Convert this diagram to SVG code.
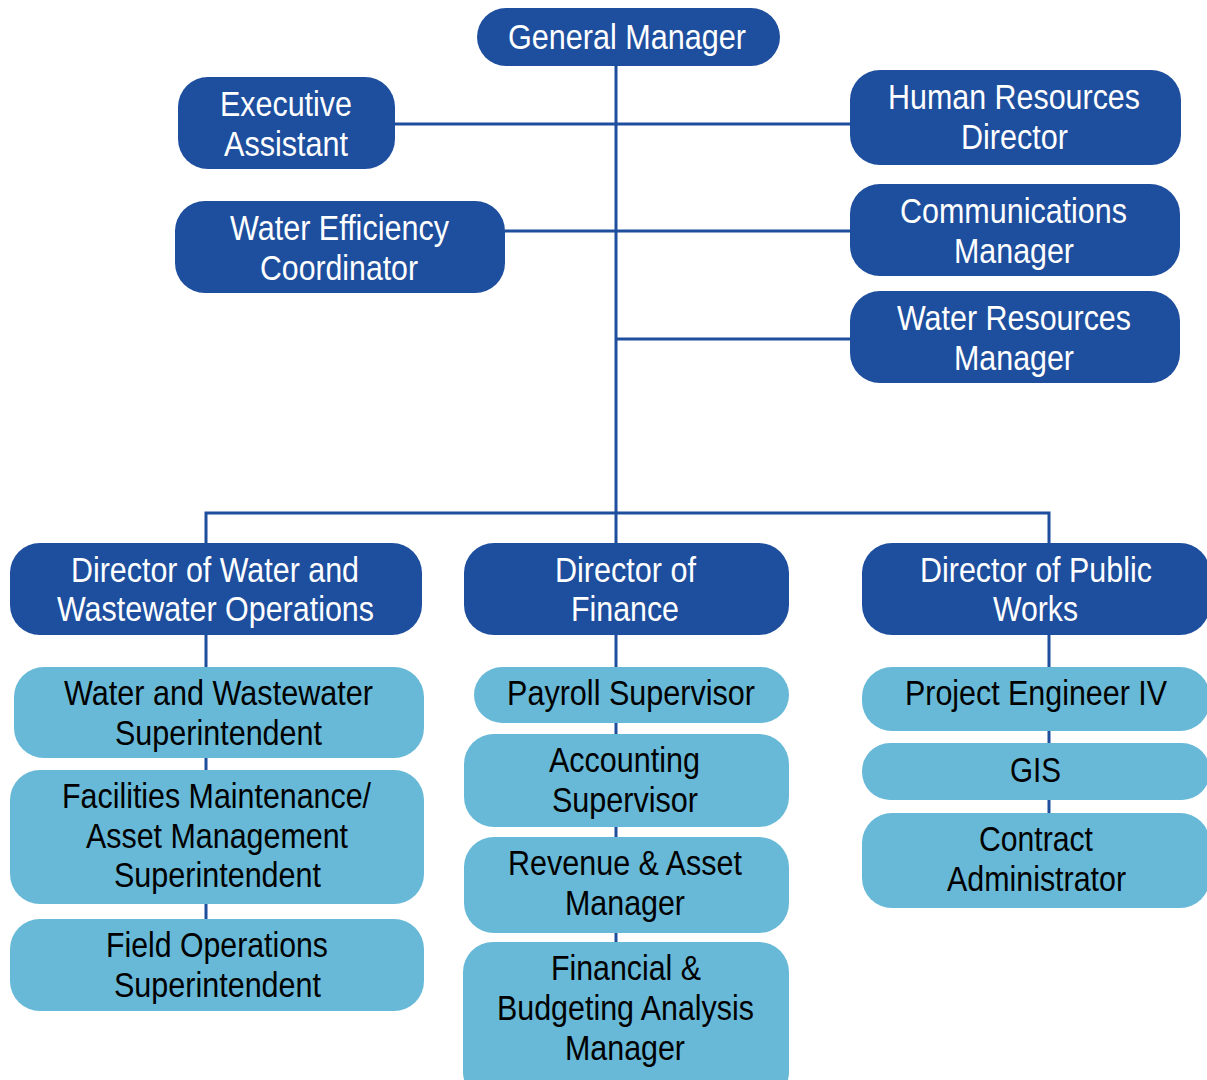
<svg xmlns="http://www.w3.org/2000/svg" width="1207" height="1080" viewBox="0 0 1207 1080">
<style>
.d{fill:#1e4e9e}
.l{fill:#67b9d7}
text{font-family:"Liberation Sans",Arial,sans-serif;font-size:35px;text-anchor:middle}
.dt{fill:#ffffff}
.lt{fill:#000000}
.c{stroke:#1e4e9e;stroke-width:3;fill:none}
</style>
<rect width="1207" height="1080" fill="#ffffff"/>
<g id="connectors" class="c">
<path d="M616 66V942"/>
<path d="M395 124H850"/>
<path d="M505 231H850"/>
<path d="M616 339H850"/>
<path d="M206 543V513H1049V543"/>
<path d="M206 635V919"/>
<path d="M1049 635V813"/>
</g>
<g id="general-manager"><rect class="d" x="477" y="8" width="303" height="58" rx="29"/><text class="dt" x="627" y="49" textLength="238" lengthAdjust="spacingAndGlyphs">General Manager</text></g>
<g id="executive-assistant"><rect class="d" x="178" y="77" width="217" height="92" rx="30"/><text class="dt" x="286" y="116" textLength="132" lengthAdjust="spacingAndGlyphs">Executive</text><text class="dt" x="286" y="156" textLength="124" lengthAdjust="spacingAndGlyphs">Assistant</text></g>
<g id="water-efficiency-coordinator"><rect class="d" x="175" y="201" width="330" height="92" rx="30"/><text class="dt" x="339.5" y="240" textLength="219" lengthAdjust="spacingAndGlyphs">Water Efficiency</text><text class="dt" x="339" y="280" textLength="158" lengthAdjust="spacingAndGlyphs">Coordinator</text></g>
<g id="hr-director"><rect class="d" x="850" y="70" width="331" height="95" rx="30"/><text class="dt" x="1014" y="109" textLength="252" lengthAdjust="spacingAndGlyphs">Human Resources</text><text class="dt" x="1014.5" y="149" textLength="107" lengthAdjust="spacingAndGlyphs">Director</text></g>
<g id="communications-manager"><rect class="d" x="850" y="184" width="330" height="92" rx="30"/><text class="dt" x="1013.5" y="223" textLength="227" lengthAdjust="spacingAndGlyphs">Communications</text><text class="dt" x="1014" y="263" textLength="120" lengthAdjust="spacingAndGlyphs">Manager</text></g>
<g id="water-resources-manager"><rect class="d" x="850" y="291" width="330" height="92" rx="30"/><text class="dt" x="1014" y="330" textLength="234" lengthAdjust="spacingAndGlyphs">Water Resources</text><text class="dt" x="1014" y="370" textLength="120" lengthAdjust="spacingAndGlyphs">Manager</text></g>
<g id="director-water"><rect class="d" x="10" y="543" width="412" height="92" rx="30"/><text class="dt" x="215" y="582" textLength="288" lengthAdjust="spacingAndGlyphs">Director of Water and</text><text class="dt" x="215.5" y="621" textLength="317" lengthAdjust="spacingAndGlyphs">Wastewater Operations</text></g>
<g id="director-finance"><rect class="d" x="464" y="543" width="325" height="92" rx="30"/><text class="dt" x="625.5" y="582" textLength="141" lengthAdjust="spacingAndGlyphs">Director of</text><text class="dt" x="625" y="621" textLength="108" lengthAdjust="spacingAndGlyphs">Finance</text></g>
<g id="director-public-works"><rect class="d" x="862" y="543" width="348" height="92" rx="30"/><text class="dt" x="1036" y="582" textLength="232" lengthAdjust="spacingAndGlyphs">Director of Public</text><text class="dt" x="1035.5" y="621" textLength="85" lengthAdjust="spacingAndGlyphs">Works</text></g>
<g id="ww-superintendent"><rect class="l" x="14" y="667" width="410" height="91" rx="30"/><text class="lt" x="218.5" y="705" textLength="309" lengthAdjust="spacingAndGlyphs">Water and Wastewater</text><text class="lt" x="218.5" y="745" textLength="207" lengthAdjust="spacingAndGlyphs">Superintendent</text></g>
<g id="facilities-superintendent"><rect class="l" x="10" y="770" width="414" height="134" rx="30"/><text class="lt" x="216.5" y="808" textLength="309" lengthAdjust="spacingAndGlyphs">Facilities Maintenance/</text><text class="lt" x="217" y="848" textLength="262" lengthAdjust="spacingAndGlyphs">Asset Management</text><text class="lt" x="217.5" y="887" textLength="207" lengthAdjust="spacingAndGlyphs">Superintendent</text></g>
<g id="field-operations-superintendent"><rect class="l" x="10" y="919" width="414" height="92" rx="30"/><text class="lt" x="217" y="957" textLength="222" lengthAdjust="spacingAndGlyphs">Field Operations</text><text class="lt" x="217.5" y="997" textLength="207" lengthAdjust="spacingAndGlyphs">Superintendent</text></g>
<g id="payroll-supervisor"><rect class="l" x="474" y="667" width="315" height="56" rx="28"/><text class="lt" x="631" y="705" textLength="248" lengthAdjust="spacingAndGlyphs">Payroll Supervisor</text></g>
<g id="accounting-supervisor"><rect class="l" x="464" y="734" width="325" height="93" rx="30"/><text class="lt" x="624.5" y="772" textLength="151" lengthAdjust="spacingAndGlyphs">Accounting</text><text class="lt" x="625" y="812" textLength="146" lengthAdjust="spacingAndGlyphs">Supervisor</text></g>
<g id="revenue-asset-manager"><rect class="l" x="464" y="837" width="325" height="96" rx="30"/><text class="lt" x="625" y="875" textLength="234" lengthAdjust="spacingAndGlyphs">Revenue &amp; Asset</text><text class="lt" x="625" y="915" textLength="120" lengthAdjust="spacingAndGlyphs">Manager</text></g>
<g id="financial-budgeting-manager"><rect class="l" x="463" y="942" width="326" height="160" rx="30"/><text class="lt" x="626" y="980" textLength="150" lengthAdjust="spacingAndGlyphs">Financial &amp;</text><text class="lt" x="625.5" y="1020" textLength="257" lengthAdjust="spacingAndGlyphs">Budgeting Analysis</text><text class="lt" x="625" y="1060" textLength="120" lengthAdjust="spacingAndGlyphs">Manager</text></g>
<g id="project-engineer"><rect class="l" x="862" y="667" width="348" height="64" rx="30"/><text class="lt" x="1036" y="705" textLength="262" lengthAdjust="spacingAndGlyphs">Project Engineer IV</text></g>
<g id="gis"><rect class="l" x="862" y="743" width="348" height="57" rx="28"/><text class="lt" x="1035.5" y="782" textLength="51" lengthAdjust="spacingAndGlyphs">GIS</text></g>
<g id="contract-administrator"><rect class="l" x="862" y="813" width="348" height="95" rx="30"/><text class="lt" x="1036" y="851" textLength="114" lengthAdjust="spacingAndGlyphs">Contract</text><text class="lt" x="1036.5" y="891" textLength="179" lengthAdjust="spacingAndGlyphs">Administrator</text></g>
</svg>
